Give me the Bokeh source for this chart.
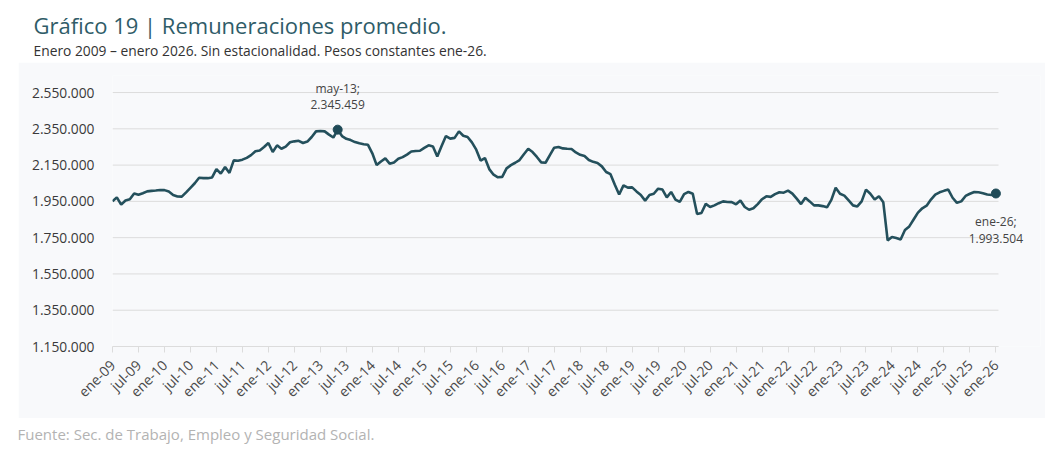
import math
from bokeh.plotting import figure
from bokeh.models import Range1d, FixedTicker, Label, Spacer
from bokeh.layouts import column, row
from bokeh.core.properties import value
from bokeh.embed import file_html
from bokeh.resources import INLINE

# ---- data (thousands of constant pesos, monthly, ene-09 .. ene-26) ----
v2009 = [1950, 1972, 1932, 1955, 1962, 1994, 1987, 1995, 2005, 2008, 2010, 2013]
v2010 = [2012, 2004, 1985, 1977, 1976, 2000, 2025, 2050, 2080, 2078, 2078, 2082]
v2011 = [2128, 2103, 2140, 2107, 2176, 2174, 2180, 2190, 2205, 2226, 2231, 2250]
v2012 = [2272, 2222, 2259, 2240, 2252, 2276, 2281, 2284, 2272, 2280, 2305, 2336]
v2013 = [2338, 2336, 2318, 2302, 2345.459, 2310, 2295, 2288, 2277, 2270, 2265, 2262]
v2014 = [2215, 2150, 2170, 2187, 2158, 2165, 2185, 2194, 2208, 2225, 2228, 2229]
v2015 = [2245, 2259, 2253, 2198, 2255, 2310, 2296, 2300, 2336, 2312, 2305, 2275]
v2016 = [2235, 2175, 2189, 2128, 2097, 2083, 2085, 2132, 2150, 2163, 2178, 2210]
v2017 = [2240, 2222, 2195, 2165, 2163, 2205, 2246, 2250, 2242, 2240, 2239, 2220]
v2018 = [2207, 2200, 2178, 2168, 2162, 2143, 2112, 2100, 2042, 1988, 2038, 2026]
v2019 = [2027, 2005, 1985, 1954, 1985, 1992, 2020, 2015, 1972, 2002, 1960, 1947]
v2020 = [1990, 2002, 1992, 1880, 1886, 1936, 1919, 1928, 1940, 1950, 1947, 1946]
v2021 = [1934, 1955, 1919, 1904, 1912, 1935, 1962, 1978, 1975, 1990, 2000, 1998]
v2022 = [2009, 1993, 1965, 1935, 1970, 1950, 1928, 1928, 1924, 1917, 1958, 2025]
v2023 = [1992, 1982, 1955, 1928, 1922, 1950, 2015, 1992, 1960, 1978, 1945, 1735]
v2024 = [1754, 1748, 1740, 1792, 1812, 1850, 1888, 1912, 1926, 1960, 1987, 2000]
v2025 = [2008, 2015, 1970, 1942, 1950, 1980, 1992, 2002, 2000, 1995, 1988, 1985]
v2026 = [1993.504]

tick_labels = ["ene-09", "jul-09", "ene-10", "jul-10", "ene-11", "jul-11", "ene-12", "jul-12",
               "ene-13", "jul-13", "ene-14", "jul-14", "ene-15", "jul-15", "ene-16", "jul-16",
               "ene-17", "jul-17", "ene-18", "jul-18", "ene-19", "jul-19", "ene-20", "jul-20",
               "ene-21", "jul-21", "ene-22", "jul-22", "ene-23", "jul-23", "ene-24", "jul-24",
               "ene-25", "jul-25", "ene-26"]
y_ticks = [1150000, 1350000, 1550000, 1750000, 1950000, 2150000, 2350000, 2550000]

hl_idx = [52, 204]
hl_top = ["may-13;", "ene-26;"]
hl_bot = ["2.345.459", "1.993.504"]

title = "Gráfico 19 | Remuneraciones promedio."
subtitle = "Enero 2009 \u2013 enero 2026. Sin estacionalidad. Pesos constantes ene-26."
source = "Fuente: Sec. de Trabajo, Empleo y Seguridad Social."

values = [v * 1000 for v in (v2009 + v2010 + v2011 + v2012 + v2013 + v2014 + v2015 + v2016 +
                             v2017 + v2018 + v2019 + v2020 + v2021 + v2022 + v2023 + v2024 +
                             v2025 + v2026)]
months = list(range(len(values)))

FONT = "Open Sans"
PANEL = "#f8f9fb"
LINE = "#24505c"
GRID = "#dcdcdc"

# ---- header ----
head = figure(width=1040, height=62, x_range=Range1d(0, 1040), y_range=Range1d(0, 62),
              output_backend="svg", toolbar_location=None, x_axis_location=None,
              y_axis_location=None, min_border=0, outline_line_color=None)
head.grid.visible = False
head.text(x=[33], y=[38], text=[title], text_font=value(FONT), text_font_size="22px",
          text_color="#2f5c68", text_baseline="middle", text_align="left")
head.text(x=[33], y=[12], text=[subtitle], text_font=value(FONT), text_font_size="13.8px",
          text_color="#333333", text_baseline="middle", text_align="left")

# ---- main chart ----
x_end = months[-1] + 0.6
p = figure(width=1027, height=356, x_range=Range1d(0, 214.3), y_range=Range1d(1150000, 2644000),
           output_backend="svg", toolbar_location=None,
           min_border_left=94, min_border_right=5, min_border_top=13, min_border_bottom=72,
           background_fill_color=PANEL, border_fill_color=PANEL, outline_line_color=None)

p.grid.visible = False
p.segment(x0=[0] * len(y_ticks), x1=[x_end] * len(y_ticks), y0=y_ticks, y1=y_ticks,
          line_color=GRID, line_width=1)

p.yaxis.ticker = FixedTicker(ticks=y_ticks)
p.yaxis.major_label_overrides = {t: f"{t:,}".replace(",", ".") for t in y_ticks}
p.yaxis.axis_line_color = None
p.yaxis.major_tick_line_color = None
p.yaxis.minor_tick_line_color = None
p.yaxis.major_label_text_font = FONT
p.yaxis.major_label_text_font_size = "13.8px"
p.yaxis.major_label_text_color = "#3a3a3a"
p.yaxis.major_label_standoff = 12

x_ticks = list(range(0, 6 * len(tick_labels), 6))
p.xaxis.ticker = FixedTicker(ticks=x_ticks)
p.xaxis.bounds = (0, x_end)
p.xaxis.major_label_overrides = {t: l for t, l in zip(x_ticks, tick_labels)}
p.xaxis.major_label_orientation = math.pi / 4
p.xaxis.axis_line_color = GRID
p.xaxis.major_tick_line_color = GRID
p.xaxis.major_tick_out = 6
p.xaxis.major_tick_in = 0
p.xaxis.minor_tick_line_color = None
p.xaxis.major_label_text_font = FONT
p.xaxis.major_label_text_font_size = "14px"
p.xaxis.major_label_text_color = "#4a4a4a"
p.xaxis.major_label_standoff = 10

p.line(x=months, y=values, line_color=LINE, line_width=2.6)
p.scatter(x=[months[i] for i in hl_idx], y=[values[i] for i in hl_idx], size=9,
          fill_color="#1f4a57", line_color="#1f4a57")

# annotations
i0 = hl_idx[0]
p.add_layout(Label(x=months[i0], y=values[i0], y_offset=41, text=hl_top[0], text_align="center",
                   text_baseline="middle", text_font=FONT, text_font_size="12px",
                   text_color="#444444"))
p.add_layout(Label(x=months[i0], y=values[i0], y_offset=25, text=hl_bot[0], text_align="center",
                   text_baseline="middle", text_font=FONT, text_font_size="12px",
                   text_color="#444444"))
i1 = hl_idx[1]
p.add_layout(Label(x=months[i1], y=values[i1], y_offset=-28, text=hl_top[1], text_align="center",
                   text_baseline="middle", text_font=FONT, text_font_size="12px",
                   text_color="#444444"))
p.add_layout(Label(x=months[i1], y=values[i1], y_offset=-45, text=hl_bot[1], text_align="center",
                   text_baseline="middle", text_font=FONT, text_font_size="12px",
                   text_color="#444444"))

# ---- footer ----
foot = figure(width=1040, height=50, x_range=Range1d(0, 1040), y_range=Range1d(0, 50),
              output_backend="svg", toolbar_location=None, x_axis_location=None,
              y_axis_location=None, min_border=0, outline_line_color=None)
foot.grid.visible = False
foot.text(x=[17], y=[35], text=[source], text_font=value(FONT), text_font_size="15px",
          text_color="#b3b3b3", text_baseline="middle", text_align="left")

layout = column(head, row(Spacer(width=18, height=356), p), foot)

open("out.html", "w").write(file_html(layout, INLINE))
